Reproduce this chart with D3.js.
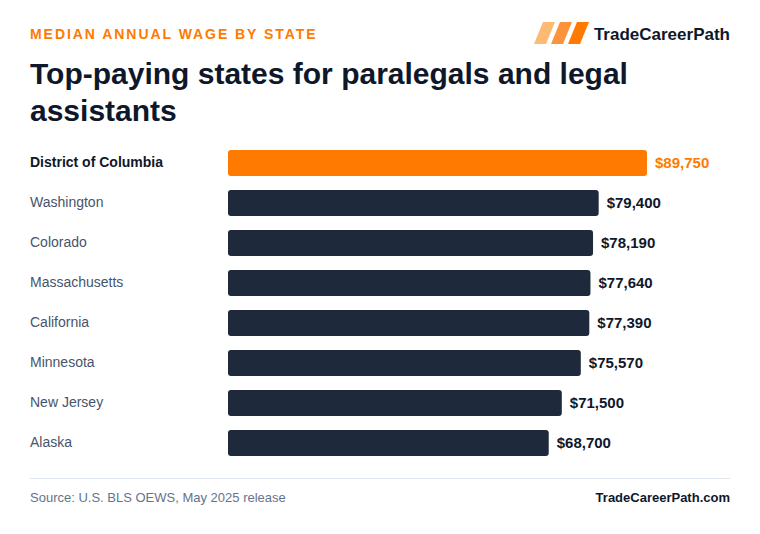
<!DOCTYPE html>
<html><head><meta charset="utf-8">
<script src="https://cdn.jsdelivr.net/npm/d3@7"></script>
<style>body{margin:0;background:#fff}svg{display:block;font-family:"Liberation Sans",Arial,sans-serif}</style>
</head><body><svg id="c" width="760" height="534"></svg>
<script>
const states = ["District of Columbia","Washington","Colorado","Massachusetts","California","Minnesota","New Jersey","Alaska"];
const wages = [89750,79400,78190,77640,77390,75570,71500,68700];
const highlight = ["District of Columbia"];

const svg = d3.select("#c");
const ORANGE = "#ff7a00", DARK = "#1e293b", INK = "#0f172a";

svg.append("text").attr("x",30).attr("y",39).attr("fill",ORANGE)
  .attr("font-size",14).attr("font-weight",700).attr("letter-spacing",1.95)
  .text("MEDIAN ANNUAL WAGE BY STATE");

// logo
const logoCols = ["#fdba74","#fb923c","#ff7a00"];
logoCols.forEach((c,i)=>{
  const x0 = 534 + i*17;
  svg.append("path").attr("d",`M${x0+9},22 L${x0+21},22 L${x0+12},44 L${x0},44 Z`).attr("fill",c);
});
svg.append("text").attr("x",730).attr("y",40).attr("text-anchor","end").attr("fill",INK).attr("font-size",17).attr("font-weight",700).text("TradeCareerPath");

svg.append("text").attr("x",30).attr("y",84).attr("fill",INK).attr("font-size",30).attr("font-weight",700).text("Top-paying states for paralegals and legal");
svg.append("text").attr("x",30).attr("y",121).attr("fill",INK).attr("font-size",30).attr("font-weight",700).text("assistants");

const x = d3.scaleLinear().domain([0,89750]).range([228,647]);
const y = d3.scaleBand().domain(states).range([143,463]).paddingInner(0.35).paddingOuter(0.175);

const rows = svg.append("g").selectAll("g").data(states).join("g");
rows.append("rect").attr("x",x(0)).attr("y",d=>y(d)).attr("height",y.bandwidth())
  .attr("width",(d,i)=>x(wages[i])-x(0)).attr("rx",3)
  .attr("fill",d=>highlight.includes(d)?ORANGE:DARK);
rows.append("text").attr("x",30).attr("y",d=>y(d)+y.bandwidth()/2+4)
  .attr("font-size",14).attr("font-weight",d=>highlight.includes(d)?700:400)
  .attr("fill",d=>highlight.includes(d)?INK:"#475569").text(d=>d);
rows.append("text").attr("x",(d,i)=>x(wages[i])+8).attr("y",d=>y(d)+y.bandwidth()/2+5)
  .attr("font-size",15).attr("font-weight",700)
  .attr("fill",d=>highlight.includes(d)?ORANGE:INK)
  .text((d,i)=>"$"+d3.format(",")(wages[i]));

svg.append("line").attr("x1",30).attr("x2",730).attr("y1",478.5).attr("y2",478.5).attr("stroke","#e2e8f0");
svg.append("text").attr("x",30).attr("y",502).attr("font-size",13).attr("fill","#64748b").text("Source: U.S. BLS OEWS, May 2025 release");
svg.append("text").attr("x",730).attr("y",502).attr("text-anchor","end").attr("font-size",13).attr("font-weight",700).attr("fill",INK).text("TradeCareerPath.com");
</script></body></html>
